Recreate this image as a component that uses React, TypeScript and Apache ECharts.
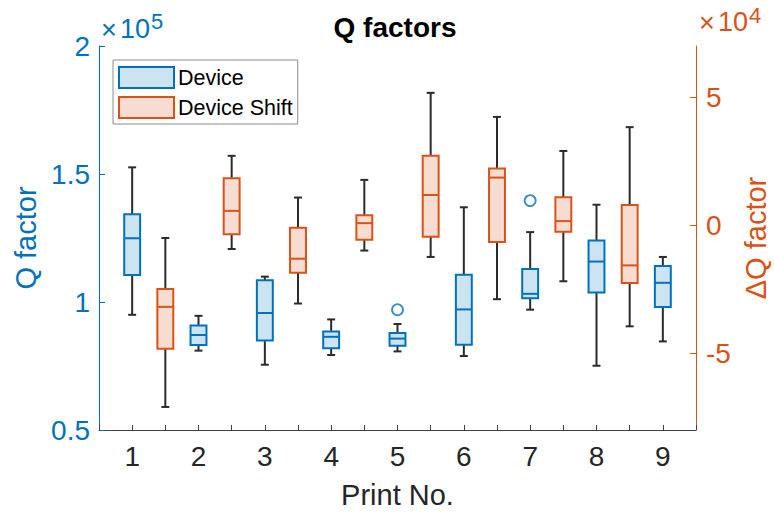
import React, { useEffect, useRef } from "react";
import * as echarts from "echarts";

// Print numbers (device boxes sit on integers, shift boxes halfway between)
const printNos = [1, 2, 3, 4, 5, 6, 7, 8, 9];
const shiftPositions = [1.5, 2.5, 3.5, 4.5, 5.5, 6.5, 7.5, 8.5];

// Q factor of devices per print (five-number summaries)
const deviceLow = [95000, 81000, 75500, 79300, 80700, 78900, 97000, 75100, 84600];
const deviceQ1 = [110500, 83200, 85000, 81900, 82900, 83300, 101500, 103700, 98000];
const deviceMed = [124900, 87100, 95700, 86400, 85700, 97100, 103200, 115800, 107500];
const deviceQ3 = [134300, 90800, 108500, 88500, 87900, 110600, 112900, 124000, 114100];
const deviceHigh = [152600, 94600, 109900, 93200, 91400, 137000, 127300, 138000, 117600];
const deviceOutliers = [
  [5, 97000],
  [7, 139600],
];

// Shift of Q factor between consecutive prints
const shiftLow = [-71000, -9300, -30600, -9900, -12400, -28900, -21900, -39500];
const shiftQ1 = [-48300, -3500, -18600, -5700, -4500, -6600, -2600, -22600];
const shiftMed = [-31900, 5600, -13100, 800, 11800, 18600, 1600, -15700];
const shiftQ3 = [-24900, 18300, -1000, 3900, 27100, 22100, 10950, 7900];
const shiftHigh = [-5000, 27100, 10800, 17700, 51700, 42300, 29000, 38300];

const leftTicks = [50000, 100000, 150000, 200000];
const rightTicks = [-50000, 0, 50000];

const BLUE = "#0072BD";
const BLUE_FILL = "#CCE3F2";
const ORANGE = "#D95319";
const ORANGE_FILL = "#F7DDD1";
const WHISKER = "#2b2b2b";
const DARK = "#262626";
const FONT = "Liberation Sans, Arial, sans-serif";

const BOX_WIDTH = 0.24;
const CAP_WIDTH = 0.12;

function makeBoxRenderer(stroke: string, fill: string) {
  return (params: any, api: any) => {
    const x = api.value(0);
    const low = api.value(1);
    const q1 = api.value(2);
    const med = api.value(3);
    const q3 = api.value(4);
    const high = api.value(5);
    const [xl, yQ3] = api.coord([x - BOX_WIDTH / 2, q3]);
    const [xr, yQ1] = api.coord([x + BOX_WIDTH / 2, q1]);
    const [xc, yMed] = api.coord([x, med]);
    const yLow = api.coord([x, low])[1];
    const yHigh = api.coord([x, high])[1];
    const cl = api.coord([x - CAP_WIDTH / 2, low])[0];
    const cr = api.coord([x + CAP_WIDTH / 2, low])[0];
    const wStyle = { stroke: WHISKER, lineWidth: 2 };
    return {
      type: "group",
      children: [
        { type: "line", shape: { x1: xc, y1: yQ3, x2: xc, y2: yHigh }, style: wStyle },
        { type: "line", shape: { x1: xc, y1: yQ1, x2: xc, y2: yLow }, style: wStyle },
        { type: "line", shape: { x1: cl, y1: yHigh, x2: cr, y2: yHigh }, style: wStyle },
        { type: "line", shape: { x1: cl, y1: yLow, x2: cr, y2: yLow }, style: wStyle },
        {
          type: "rect",
          shape: { x: xl, y: yQ3, width: xr - xl, height: yQ1 - yQ3 },
          style: { fill, stroke, lineWidth: 2 },
        },
        { type: "line", shape: { x1: xl, y1: yMed, x2: xr, y2: yMed }, style: { stroke, lineWidth: 2 } },
      ],
    };
  };
}

// Axis multiplier label "×10^n", placed as three text pieces
function exponentLabel(left: number, midY: number, power: string, color: string) {
  return [
    {
      type: "text",
      x: left,
      y: midY + 1,
      style: { text: "\u00d7", fontSize: 27, fill: color, fontFamily: FONT, verticalAlign: "middle" },
    },
    {
      type: "text",
      x: left + 19,
      y: midY,
      style: { text: "10", fontSize: 27, fill: color, fontFamily: FONT, verticalAlign: "middle" },
    },
    {
      type: "text",
      x: left + 50,
      y: midY - 7,
      style: { text: power, fontSize: 22, fill: color, fontFamily: FONT, verticalAlign: "middle" },
    },
  ];
}

export default function App() {
  const ref = useRef<HTMLDivElement>(null);

  useEffect(() => {
    if (!ref.current) return;
    const chart = echarts.init(ref.current, null, { renderer: "svg" });

    const deviceData = printNos.map((p, i) => [
      p,
      deviceLow[i],
      deviceQ1[i],
      deviceMed[i],
      deviceQ3[i],
      deviceHigh[i],
    ]);
    const shiftData = shiftPositions.map((p, i) => [
      p,
      shiftLow[i],
      shiftQ1[i],
      shiftMed[i],
      shiftQ3[i],
      shiftHigh[i],
    ]);

    chart.setOption({
      animation: false,
      backgroundColor: "#ffffff",
      textStyle: { fontFamily: FONT },
      title: {
        text: "Q factors",
        left: 395,
        textAlign: "center",
        top: 13,
        padding: 0,
        textStyle: { fontSize: 28, fontWeight: "bold", color: "#000", fontFamily: FONT },
      },
      legend: {
        left: 113,
        top: 60,
        orient: "vertical",
        padding: [6, 5, 5, 5],
        itemWidth: 55,
        itemHeight: 21,
        itemGap: 7,
        borderColor: "#8c8c8c",
        borderWidth: 1,
        backgroundColor: "#fff",
        borderRadius: 0,
        selectedMode: false,
        textStyle: { fontSize: 21.5, color: "#000", fontFamily: FONT, padding: [0, 0, 0, -1] },
        data: [
          { name: "Device", icon: "rect", itemStyle: { color: BLUE_FILL, borderColor: BLUE, borderWidth: 2 } },
          {
            name: "Device Shift",
            icon: "rect",
            itemStyle: { color: ORANGE_FILL, borderColor: ORANGE, borderWidth: 2 },
          },
        ],
      },
      grid: { left: 99, right: 78, top: 46, bottom: 88, containLabel: false, outerBoundsMode: "none" },
      xAxis: {
        type: "value",
        min: 0.5,
        max: 9.5,
        interval: 0.5,
        name: "Print No.",
        nameLocation: "middle",
        nameGap: 50,
        nameTextStyle: { fontSize: 29, color: DARK, fontFamily: FONT },
        axisLine: { show: true, onZero: false, lineStyle: { color: "#404040", width: 1 } },
        axisTick: { show: true, inside: true, length: 5, lineStyle: { color: "#404040" } },
        axisLabel: {
          fontSize: 28,
          color: DARK,
          margin: 12,
          fontFamily: FONT,
          formatter: (v: number) => (Number.isInteger(v) && v >= 1 && v <= 9 ? String(v) : ""),
        },
        splitLine: { show: false },
      },
      yAxis: [
        {
          type: "value",
          position: "left",
          min: 50000,
          max: 200000,
          interval: 50000,
          name: "Q factor",
          nameLocation: "middle",
          nameGap: 55,
          nameTextStyle: { fontSize: 29, color: BLUE, fontFamily: FONT },
          axisLine: { show: true, lineStyle: { color: BLUE, width: 1 } },
          axisTick: { show: true, inside: true, length: 6, lineStyle: { color: BLUE } },
          axisLabel: {
            fontSize: 28,
            color: BLUE,
            margin: 9,
            fontFamily: FONT,
            customValues: leftTicks,
            formatter: (v: number) => String(v / 1e5),
          },
          splitLine: { show: false },
        },
        {
          type: "value",
          position: "right",
          min: -80000,
          max: 70000,
          name: "\u0394Q factor",
          nameLocation: "middle",
          nameGap: 44,
          nameRotate: 90,
          nameTextStyle: { fontSize: 29, color: ORANGE, fontFamily: FONT },
          axisLine: { show: true, lineStyle: { color: ORANGE, width: 1 } },
          axisTick: {
            show: true,
            inside: true,
            length: 6,
            customValues: rightTicks,
            lineStyle: { color: ORANGE },
          },
          axisLabel: {
            fontSize: 28,
            color: ORANGE,
            margin: 10,
            fontFamily: FONT,
            customValues: rightTicks,
            formatter: (v: number) => String(v / 1e4),
          },
          splitLine: { show: false },
        },
      ],
      graphic: [...exponentLabel(101, 28.5, "5", BLUE), ...exponentLabel(699, 22.3, "4", ORANGE)],
      series: [
        {
          name: "Device",
          type: "custom",
          xAxisIndex: 0,
          yAxisIndex: 0,
          itemStyle: { color: BLUE_FILL, borderColor: BLUE, borderWidth: 2 },
          encode: { x: 0, y: [1, 2, 3, 4, 5] },
          renderItem: makeBoxRenderer(BLUE, BLUE_FILL),
          data: deviceData,
          z: 3,
        },
        {
          name: "Device Shift",
          type: "custom",
          xAxisIndex: 0,
          yAxisIndex: 1,
          itemStyle: { color: ORANGE_FILL, borderColor: ORANGE, borderWidth: 2 },
          encode: { x: 0, y: [1, 2, 3, 4, 5] },
          renderItem: makeBoxRenderer(ORANGE, ORANGE_FILL),
          data: shiftData,
          z: 3,
        },
        {
          name: "Device outliers",
          type: "scatter",
          xAxisIndex: 0,
          yAxisIndex: 0,
          symbol: "circle",
          symbolSize: 11,
          itemStyle: { color: "rgba(0,0,0,0)", borderColor: BLUE, borderWidth: 1.8 },
          data: deviceOutliers,
          z: 4,
        },
      ],
    });

    return () => chart.dispose();
  }, []);

  return (
    <div
      ref={ref}
      style={{ position: "fixed", left: 0, top: 0, width: 774, height: 518, background: "#fff" }}
    />
  );
}
